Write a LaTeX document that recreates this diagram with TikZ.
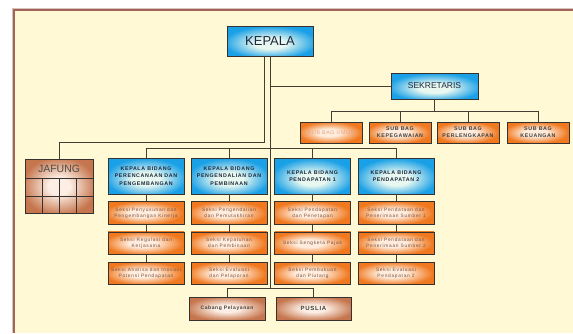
\documentclass[tikz,border=0pt]{standalone}
\usepackage{fontspec}
\setmainfont{Liberation Sans}
\newfontfamily\spacedfont[LetterSpace=12]{Liberation Sans}
\newfontfamily\seksifont[LetterSpace=15]{Liberation Sans}
\usetikzlibrary{positioning}

\definecolor{cream}{RGB}{255,249,214}
\definecolor{framecol}{RGB}{160,100,90}
\definecolor{boxline}{RGB}{55,50,48}
\definecolor{linecol}{RGB}{70,60,50}
\definecolor{blueouter}{RGB}{25,160,230}
\definecolor{blueinner}{RGB}{232,248,240}
\definecolor{bluetext}{RGB}{30,40,60}
\definecolor{orangeouter}{RGB}{240,120,30}
\definecolor{orangeinner}{RGB}{255,236,220}
\definecolor{brownouter}{RGB}{198,118,78}
\definecolor{browninner}{RGB}{252,238,228}
\definecolor{seksitext}{RGB}{120,85,70}
\definecolor{umumtext}{RGB}{225,165,135}

\pgfdeclareradialshading{blueglow}{\pgfpoint{0bp}{-5bp}}{color(0bp)=(blueinner); color(9bp)=(blueinner); color(27bp)=(blueouter); color(50bp)=(blueouter)}
\pgfdeclareradialshading{orangeglow}{\pgfpoint{-3bp}{0bp}}{color(0bp)=(orangeinner); color(9bp)=(orangeinner); color(26bp)=(orangeouter); color(50bp)=(orangeouter)}
\pgfdeclareradialshading{brownglow}{\pgfpoint{0bp}{0bp}}{color(0bp)=(browninner); color(8bp)=(browninner); color(27bp)=(brownouter); color(50bp)=(brownouter)}

\begin{document}
\begin{tikzpicture}[x=1pt, y=-1pt,
    node distance=7pt,
    box/.style={rectangle, draw=boxline, line width=0.7pt, align=center, inner sep=1pt},
    bluebox/.style={box, shade, shading=blueglow, text=bluetext},
    bidang/.style={bluebox, minimum width=76pt, minimum height=36pt, font=\spacedfont\bfseries\fontsize{5.3}{7.5}\selectfont},
    subbag/.style={box, shade, shading=orangeglow, minimum width=62pt, minimum height=21pt, text=black!75, font=\spacedfont\bfseries\fontsize{5.3}{7}\selectfont},
    seksi/.style={box, shade, shading=orangeglow, minimum width=76pt, minimum height=22.5pt, text=seksitext, font=\seksifont\fontsize{4.8}{6.2}\selectfont},
    brownbox/.style={box, shade, shading=brownglow, text=black!75},
    line/.style={draw=linecol, line width=0.8pt}
]
\useasboundingbox (0,0) rectangle (573,333);
\fill[white] (0,0) rectangle (573,333);
\fill[cream] (14,10) rectangle (573,333);
\draw[framecol!40, line width=0.6pt] (12.5,333) -- (12.5,8.5) -- (573,8.5);
\draw[framecol, line width=1.4pt] (14,333) -- (14,10) -- (573,10);

% Pimpinan
\node[bluebox, minimum width=86pt, minimum height=30pt, font=\fontsize{13}{14}\selectfont] (kepala) at (270,41) {KEPALA};
\node[bluebox, minimum width=87pt, minimum height=26pt, font=\fontsize{8.5}{9}\selectfont] (sekretaris) at (434.5,86) {SEKRETARIS};

% Sub bagian
\node[subbag, text=umumtext, font=\spacedfont\fontsize{5.3}{7}\selectfont] (umum) at (331.5,132.5) {SUB BAG UMUM};
\node[subbag] (pegawai) at (400,132.5) {SUB BAG\\KEPEGAWAIAN};
\node[subbag] (lengkap) at (468,132.5) {SUB BAG\\PERLENGKAPAN};
\node[subbag] (uang) at (538,132.5) {SUB BAG\\KEUANGAN};

% Jabatan fungsional
\node[brownbox, minimum width=68pt, minimum height=54pt] (jafung) at (59,186) {};
\node[font=\fontsize{10.5}{11}\selectfont, text=black!70] (jafungtxt) at (59,168.5) {JAFUNG};
\foreach \x in {42,59,76}
    \draw[boxline, line width=0.6pt] (\x,178) -- (\x,213);
\draw[boxline, line width=0.6pt] (25,178) -- (93,178) (25,196) -- (93,196);

% Bidang
\node[bidang] (bid1) at (146,176) {KEPALA BIDANG\\PERENCANAAN DAN\\PENGEMBANGAN};
\node[bidang] (bid2) at (229,176) {KEPALA BIDANG\\PENGENDALIAN DAN\\PEMBINAAN};
\node[bidang] (bid3) at (312.5,176) {KEPALA BIDANG\\PENDAPATAN 1};
\node[bidang] (bid4) at (396,176) {KEPALA BIDANG\\PENDAPATAN 2};

% Seksi
\node[seksi, below=of bid1] (s11) {Seksi Penyusunan dan\\Pengembangan Kinerja};
\node[seksi, below=of s11] (s12) {Seksi Regulasi dan\\Kerjasama};
\node[seksi, below=of s12] (s13) {Seksi Analisa dan Inovasi\\Potensi Pendapatan};
\node[seksi, below=of bid2] (s21) {Seksi Pengendalian\\dan Pemutakhiran};
\node[seksi, below=of s21] (s22) {Seksi Kepatuhan\\dan Pembinaan};
\node[seksi, below=of s22] (s23) {Seksi Evaluasi\\dan Pelaporan};
\node[seksi, below=of bid3] (s31) {Seksi Pendapatan\\dan Penetapan};
\node[seksi, below=of s31] (s32) {Seksi Sengketa Pajak};
\node[seksi, below=of s32] (s33) {Seksi Pembukuan\\dan Piutang};
\node[seksi, below=of bid4] (s41) {Seksi Pendataan dan\\Penerimaan Sumber 1};
\node[seksi, below=of s41] (s42) {Seksi Pendataan dan\\Penerimaan Sumber 2};
\node[seksi, below=of s42] (s43) {Seksi Evaluasi\\Pendapatan 2};

% Unit
\node[brownbox, minimum width=76pt, minimum height=23pt, font=\spacedfont\bfseries\fontsize{5}{6}\selectfont] (cabang) at (227,308.5) {Cabang Pelayanan};
\node[brownbox, minimum width=75pt, minimum height=23pt, font=\spacedfont\bfseries\fontsize{6}{7}\selectfont] (puslia) at (313.5,308.5) {PUSLIA};

% Garis
\draw[line] ([xshift=-6pt]kepala.south) -- ++(0,86) -| (jafung.north);
\draw[line] (kepala.south) -- ([yshift=8pt]cabang.north -| kepala.south);
\draw[line] (sekretaris.west) -- (sekretaris.west -| kepala.south);
\draw[line] (sekretaris.south) -- ++(0,13);
\draw[line] (umum.north) -- ++(0,-10) -| (uang.north);
\draw[line] (pegawai.north) -- ++(0,-10);
\draw[line] (lengkap.north) -- ++(0,-10);
\draw[line] (bid1.north) -- ++(0,-9) -| (bid4.north);
\draw[line] (bid2.north) -- ++(0,-9);
\draw[line] (bid3.north) -- ++(0,-9);
\foreach \c in {1,...,4}
    \draw[line] (bid\c.south) -- (s\c1.north) (s\c1.south) -- (s\c2.north) (s\c2.south) -- (s\c3.north);
\draw[line] (cabang.north) -- ++(0,-8) -| (puslia.north);

\end{tikzpicture}
\end{document}
